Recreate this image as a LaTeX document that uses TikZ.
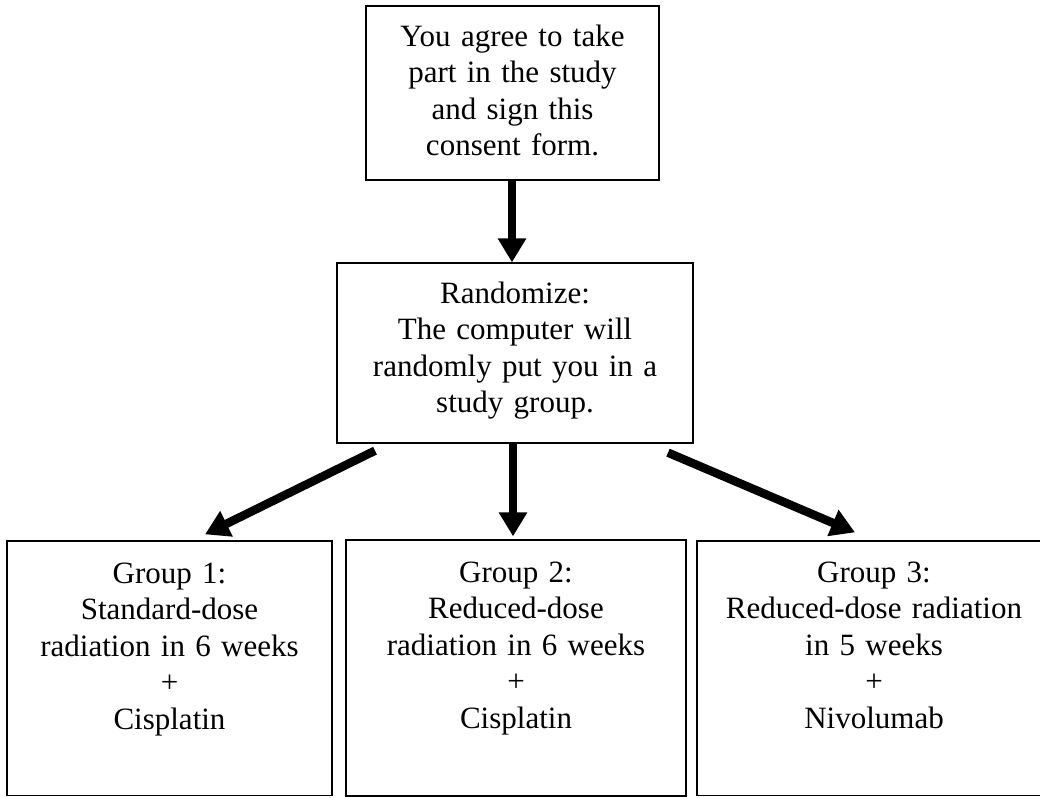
\documentclass[tikz,border=0pt]{standalone}
\usepackage{fontspec}
\setmainfont{Liberation Serif}
\usetikzlibrary{arrows.meta}
\begin{document}
\begin{tikzpicture}[x=1pt,y=1pt,
  box/.style={draw, line width=1.3pt, inner sep=0pt, rectangle},
  txt/.style={anchor=north, inner sep=0pt, text width=380pt, align=center, font=\fontsize{31}{36.5}\selectfont},
  arr/.style={line width=8.5pt, -{Triangle[length=24pt,width=27pt]}}]
\useasboundingbox (0,0) rectangle (1040,-797);
% boxes
\node[box, minimum width=293pt, minimum height=174pt] (top) at (512.5,-93) {};
\node[box, minimum width=356pt, minimum height=180pt] (mid) at (515,-353) {};
\node[box, minimum width=325pt, minimum height=254.5pt] (g1) at (169.5,-668.25) {};
\node[box, minimum width=340pt, minimum height=256pt] (g2) at (516,-668) {};
\node[box, minimum width=354pt, minimum height=254.5pt] (g3) at (874,-668.25) {};
% texts
\node[txt] (ttop) at (512.5,-21) {\rule{0pt}{25pt}You agree to take\\part in the study\\and sign this\\consent form.};
\node[txt] (tmid) at (515,-278) {\rule{0pt}{25pt}Randomize:\\The computer will\\randomly put you in a\\study group.};
\node[txt] (tg1) at (169.5,-558) {\rule{0pt}{25pt}Group 1:\\Standard-dose\\radiation in 6 weeks\\+\\Cisplatin};
\node[txt] (tg2) at (516,-557) {\rule{0pt}{25pt}Group 2:\\Reduced-dose\\radiation in 6 weeks\\+\\Cisplatin};
\node[txt] (tg3) at (874,-557) {\rule{0pt}{25pt}Group 3:\\Reduced-dose radiation\\in 5 weeks\\+\\Nivolumab};
% arrows
\draw[arr] ([xshift=-0.5pt]top.south) -- ([xshift=-3pt]mid.north);
\draw[arr] ([xshift=-140pt,yshift=-7pt]mid.south) -- ([xshift=35.5pt,yshift=6pt]g1.north);
\draw[arr] ([xshift=-2pt]mid.south) -- ([xshift=-3pt,yshift=3pt]g2.north);
\draw[arr] ([xshift=153pt,yshift=-9pt]mid.south) -- ([xshift=-19pt,yshift=8pt]g3.north);
\end{tikzpicture}
\end{document}
